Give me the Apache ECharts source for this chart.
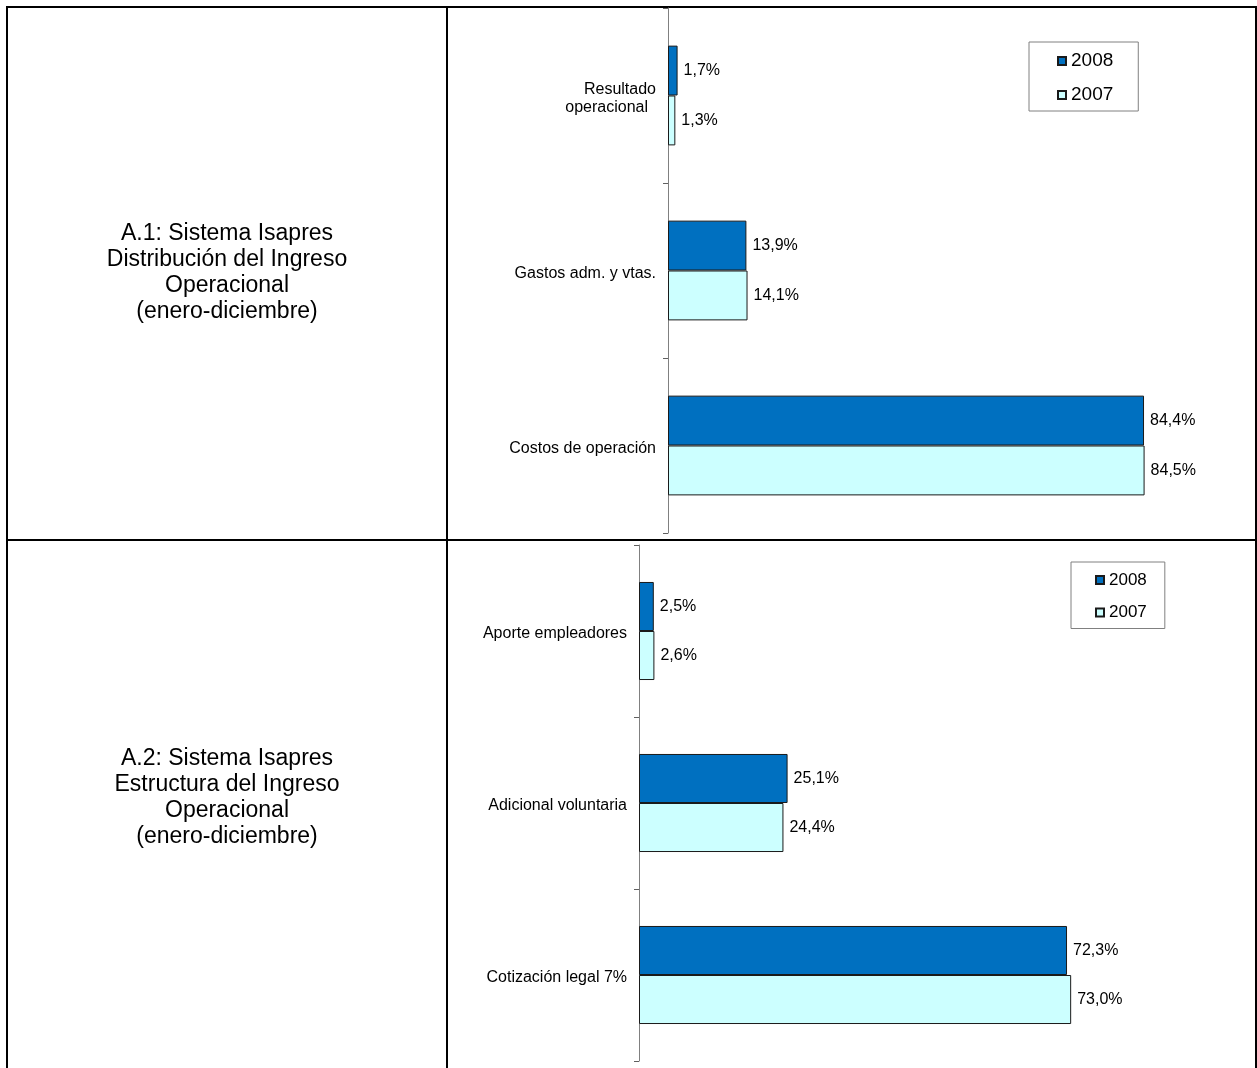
<!DOCTYPE html>
<html>
<head>
<meta charset="utf-8">
<script src="https://cdn.jsdelivr.net/npm/echarts@6/dist/echarts.min.js"></script>
<style>
  html, body { margin: 0; padding: 0; background: #fff; }
  #chart { width: 1257px; height: 1068px; }
</style>
</head>
<body>
<div id="chart"></div>
<script>
// Years shown in each panel
const years = ['2008', '2007'];

// A.1: distribution of operating income (% of income)
const catsA1 = ['Resultado\noperacional', 'Gastos adm. y vtas.', 'Costos de operación'];
const a1Y2008 = [1.7, 13.9, 84.4];
const a1Y2007 = [1.3, 14.1, 84.5];

// A.2: structure of operating income (% of income)
const catsA2 = ['Aporte empleadores', 'Adicional voluntaria', 'Cotización legal 7%'];
const a2Y2008 = [2.5, 25.1, 72.3];
const a2Y2007 = [2.6, 24.4, 73.0];

// Row headings of the table
const titleA1 = ['A.1: Sistema Isapres', 'Distribución del Ingreso', 'Operacional', '(enero-diciembre)'];
const titleA2 = ['A.2: Sistema Isapres', 'Estructura del Ingreso', 'Operacional', '(enero-diciembre)'];

const FONT = '"Liberation Sans", Arial, sans-serif';
const DARK = '#0070C0';
const LIGHT = '#CCFFFF';

const fmtPct = v => v.toFixed(1).replace('.', ',') + '%';

function barSeries(name, data, color, idx) {
  return {
    type: 'bar',
    name: name,
    data: data,
    xAxisIndex: idx,
    yAxisIndex: idx,
    barWidth: '28.5%',
    barGap: '0%',
    itemStyle: { color: color, borderColor: '#1a1a1a', borderWidth: 1 },
    label: {
      show: true,
      position: 'right',
      distance: 6,
      formatter: p => fmtPct(p.value),
      color: '#000',
      fontFamily: FONT,
      fontSize: 16
    },
    emphasis: { disabled: true },
    silent: true
  };
}

function catAxis(cats, idx) {
  return {
    type: 'category',
    gridIndex: idx,
    data: cats,
    inverse: true,
    axisLine: { show: true, lineStyle: { color: '#808080', width: 1 } },
    axisTick: { show: true, length: 5, inside: false, lineStyle: { color: '#606060' } },
    axisLabel: {
      margin: 12,
      color: '#000',
      fontFamily: FONT,
      fontSize: 16,
      padding: [6, 0, 0, 0],
      formatter: v => {
        const parts = v.split('\n');
        if (parts.length > 1) return '{a|' + parts[0] + '}\n{b|' + parts[1] + '}';
        return v;
      },
      rich: {
        a: { fontFamily: FONT, fontSize: 16, color: '#000', lineHeight: 18 },
        b: { fontFamily: FONT, fontSize: 16, color: '#000', lineHeight: 18, padding: [0, 8, 0, 0] }
      }
    }
  };
}

function valAxis(idx) {
  return { type: 'value', gridIndex: idx, min: 0, max: 100, show: false };
}

function legend(left, top, padding, fontSize, gap) {
  return {
    data: years,
    orient: 'vertical',
    left: left,
    top: top,
    padding: padding,
    itemWidth: 8,
    itemHeight: 8,
    itemGap: gap,
    icon: 'rect',
    borderColor: '#808080',
    borderWidth: 1,
    selectedMode: false,
    textStyle: { fontFamily: FONT, fontSize: fontSize, lineHeight: 20, color: '#000' }
  };
}

function line(x1, y1, x2, y2) {
  return {
    type: 'line',
    silent: true,
    shape: { x1: x1, y1: y1, x2: x2, y2: y2 },
    style: { stroke: '#000', lineWidth: 2 }
  };
}

function heading(lines, cx, cy) {
  return {
    type: 'text',
    silent: true,
    x: cx,
    y: cy,
    style: {
      text: lines.join('\n'),
      align: 'center',
      verticalAlign: 'middle',
      font: '23px ' + FONT,
      lineHeight: 26,
      fill: '#000'
    }
  };
}

const chart = echarts.init(document.getElementById('chart'), null, { renderer: 'canvas' });

chart.setOption({
  animation: false,
  backgroundColor: '#fff',
  grid: [
    { left: 668, top: 8, width: 564, height: 525, containLabel: false },
    { left: 639, top: 545, width: 592, height: 516, containLabel: false }
  ],
  xAxis: [valAxis(0), valAxis(1)],
  yAxis: [catAxis(catsA1, 0), catAxis(catsA2, 1)],
  legend: [
    legend(1029, 42, [9, 25, 6, 28], 19, 14),
    legend(1071, 562, [8, 18, 6, 24], 17, 12.5)
  ],
  series: [
    barSeries('2008', a1Y2008, DARK, 0),
    barSeries('2007', a1Y2007, LIGHT, 0),
    barSeries('2008', a2Y2008, DARK, 1),
    barSeries('2007', a2Y2007, LIGHT, 1)
  ],
  graphic: [
    // table frame
    line(6, 7, 1257, 7),
    line(7, 6, 7, 1068),
    line(447, 6, 447, 1068),
    line(1256, 6, 1256, 1068),
    line(6, 540, 1257, 540),
    // row headings
    heading(titleA1, 227, 273),
    heading(titleA2, 227, 798)
  ]
});
</script>
</body>
</html>
